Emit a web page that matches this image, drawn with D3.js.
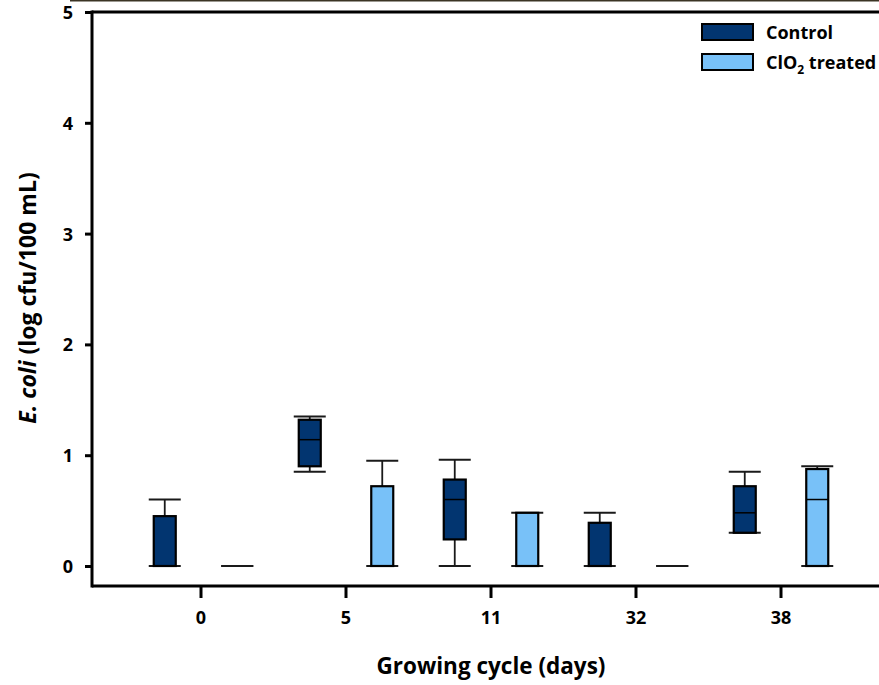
<!DOCTYPE html>
<html>
<head>
<meta charset="utf-8">
<script src="https://cdn.jsdelivr.net/npm/d3@7"></script>
<style>
  html, body { margin: 0; padding: 0; background: #fff; }
  svg { display: block; font-family: "Open Sans", "Noto Sans", sans-serif; }
</style>
</head>
<body>
<svg id="chart" width="879" height="685"></svg>
<script>
// ---- data ----
const days = ["0", "5", "11", "32", "38"];
const seriesNames = ["Control", "ClO2 treated"];
const yTicks = [0, 1, 2, 3, 4, 5];

const controlMin    = [0.00, 0.85, 0.00, 0.00, 0.30];
const controlQ1     = [0.00, 0.90, 0.24, 0.00, 0.30];
const controlMedian = [0.00, 1.14, 0.60, 0.00, 0.48];
const controlQ3     = [0.45, 1.32, 0.78, 0.39, 0.72];
const controlMax    = [0.60, 1.35, 0.96, 0.48, 0.85];

const treatedMin    = [0.00, 0.00, 0.00, 0.00, 0.00];
const treatedQ1     = [0.00, 0.00, 0.00, 0.00, 0.00];
const treatedMedian = [0.00, 0.00, 0.00, 0.00, 0.60];
const treatedQ3     = [0.00, 0.72, 0.48, 0.00, 0.875];
const treatedMax    = [0.00, 0.95, 0.48, 0.00, 0.90];

const colors = ["#023570", "#78C1F8"];

// build rows
const rows = [];
days.forEach((d, i) => {
  rows.push({day: d, series: seriesNames[0], min: controlMin[i], q1: controlQ1[i], med: controlMedian[i], q3: controlQ3[i], max: controlMax[i], color: colors[0]});
  rows.push({day: d, series: seriesNames[1], min: treatedMin[i], q1: treatedQ1[i], med: treatedMedian[i], q3: treatedQ3[i], max: treatedMax[i], color: colors[1]});
});

const svg = d3.select("#chart");
const FONT = "'Open Sans', 'Noto Sans', sans-serif";

const x = d3.scaleBand().domain(days).range([128.5, 853.5]).padding(0);
const xs = d3.scaleBand().domain(seriesNames).range([0, x.bandwidth()]).padding(0);
const y = d3.scaleLinear().domain([0, 5]).range([566, 12]);

const boxW = 22, capW = 32;
const cx = r => x(r.day) + xs(r.series) + xs.bandwidth() / 2;

// cropped figure artifact line at the very top
svg.append("line").attr("x1", 70).attr("x2", 879).attr("y1", 0.5).attr("y2", 0.5)
  .attr("stroke", "#3b3424").attr("stroke-width", 2);

// frame lines
const axisY = 586;
svg.append("line").attr("x1", 92).attr("x2", 92).attr("y1", y(5) - 1.5).attr("y2", axisY + 1.5)
  .attr("stroke", "#000").attr("stroke-width", 3);
svg.append("line").attr("x1", 92).attr("x2", 879).attr("y1", axisY).attr("y2", axisY)
  .attr("stroke", "#000").attr("stroke-width", 3);
svg.append("line").attr("x1", 92).attr("x2", 879).attr("y1", y(5)).attr("y2", y(5))
  .attr("stroke", "#000").attr("stroke-width", 3);

// y axis
const yAxis = svg.append("g").attr("transform", "translate(92,0)")
  .call(d3.axisLeft(y).tickValues(yTicks).tickSize(7).tickPadding(12).tickFormat(d3.format("d")))
  .attr("font-family", FONT).attr("font-size", 18).attr("font-weight", 700);
yAxis.select(".domain").remove();
yAxis.selectAll(".tick line").attr("stroke", "#000").attr("stroke-width", 3);
yAxis.selectAll(".tick text").attr("fill", "#000").attr("dy", "0.36em");

// x axis
const xAxis = svg.append("g").attr("transform", `translate(0,${axisY})`)
  .call(d3.axisBottom(x).tickSize(12).tickPadding(13))
  .attr("font-family", FONT).attr("font-size", 18).attr("font-weight", 700);
xAxis.select(".domain").remove();
xAxis.selectAll(".tick line").attr("stroke", "#000").attr("stroke-width", 3);
xAxis.selectAll(".tick text").attr("fill", "#000");

// whiskers
const g = svg.append("g");
g.selectAll(".whisk").data(rows).join("line")
  .attr("x1", cx).attr("x2", cx)
  .attr("y1", r => y(r.max)).attr("y2", r => y(r.min))
  .attr("stroke", "#1a1a1a").attr("stroke-width", 1.8);
g.selectAll(".capTop").data(rows).join("line")
  .attr("x1", r => cx(r) - capW / 2).attr("x2", r => cx(r) + capW / 2)
  .attr("y1", r => y(r.max)).attr("y2", r => y(r.max))
  .attr("stroke", "#1a1a1a").attr("stroke-width", 2);
g.selectAll(".capBot").data(rows).join("line")
  .attr("x1", r => cx(r) - capW / 2).attr("x2", r => cx(r) + capW / 2)
  .attr("y1", r => y(r.min)).attr("y2", r => y(r.min))
  .attr("stroke", "#1a1a1a").attr("stroke-width", 2);

// boxes
g.selectAll(".box").data(rows.filter(r => r.q3 > r.q1)).join("rect")
  .attr("x", r => cx(r) - boxW / 2).attr("width", boxW)
  .attr("y", r => y(r.q3)).attr("height", r => y(r.q1) - y(r.q3))
  .attr("fill", r => r.color).attr("stroke", "#000").attr("stroke-width", 2.2);
// medians
g.selectAll(".med").data(rows.filter(r => r.q3 > r.q1 && r.med > r.q1 && r.med < r.q3)).join("line")
  .attr("x1", r => cx(r) - boxW / 2).attr("x2", r => cx(r) + boxW / 2)
  .attr("y1", r => y(r.med)).attr("y2", r => y(r.med))
  .attr("stroke", "#000").attr("stroke-width", 1.5);

// axis titles
svg.append("text").attr("x", 491).attr("y", 674).attr("text-anchor", "middle")
  .style("font-size", "22.5px").style("font-weight", "700").text("Growing cycle (days)");

const yt = svg.append("text").attr("transform", "translate(36,298) rotate(-90)")
  .attr("text-anchor", "middle").style("font-size", "23px").style("font-weight", "700");
yt.append("tspan").style("font-style", "italic").text("E. coli");
yt.append("tspan").text(" (log cfu/100 mL)");

// legend
const legend = svg.append("g");
seriesNames.forEach((s, i) => {
  const ly = 24 + i * 30;
  legend.append("rect").attr("x", 702).attr("y", ly).attr("width", 51).attr("height", 16)
    .attr("fill", colors[i]).attr("stroke", "#000").attr("stroke-width", 2);
  const t = legend.append("text").attr("x", 766).attr("y", ly + 15)
    .style("font-size", "18px").style("font-weight", "700");
  if (i === 0) {
    t.text(s);
  } else {
    t.append("tspan").text("ClO");
    t.append("tspan").attr("dy", 5).style("font-size", "12px").text("2");
    t.append("tspan").attr("dy", -5).text(" treated");
  }
});
</script>
</body>
</html>
